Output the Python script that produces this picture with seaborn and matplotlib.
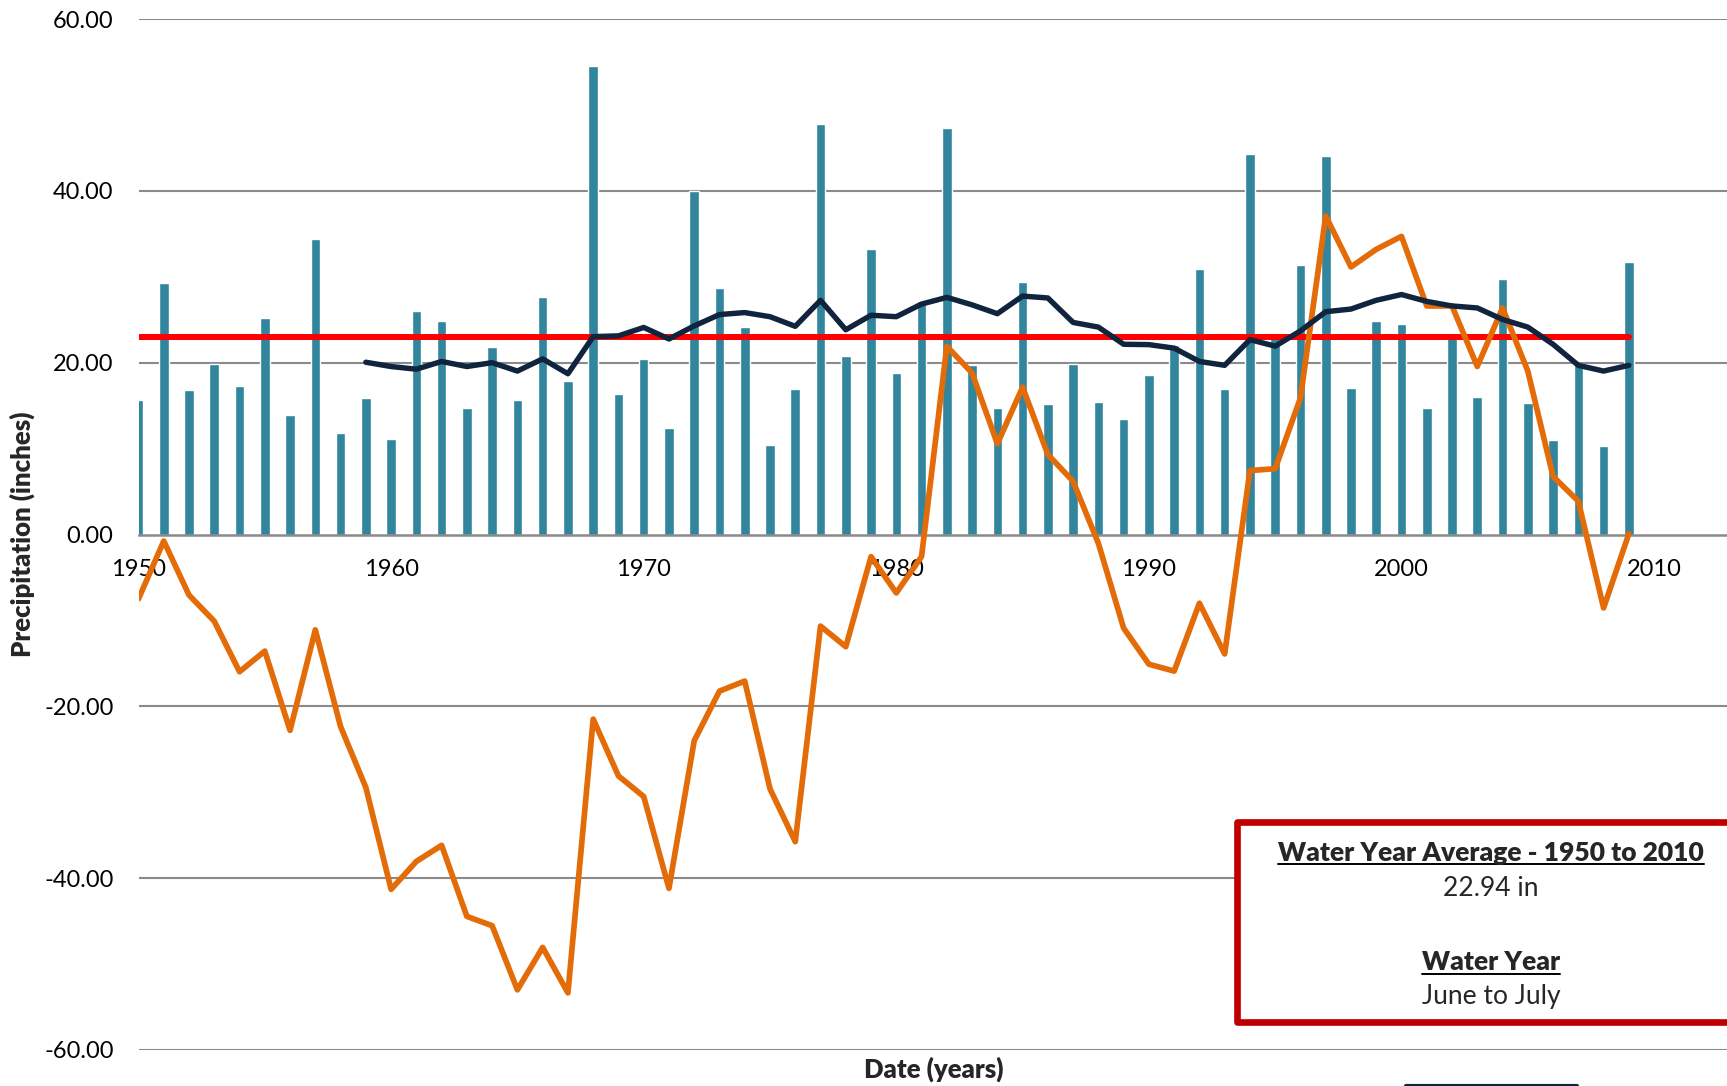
import pandas as pd
import matplotlib.pyplot as plt
import seaborn as sns
from matplotlib.patches import Rectangle
from matplotlib.lines import Line2D

# ---------------- data ----------------
years = list(range(1950, 2010))

precip = [15.6, 29.3, 16.8, 19.8, 17.3, 25.2, 13.9, 34.4, 11.8, 15.9,
          11.1, 26.0, 24.8, 14.7, 21.8, 15.6, 27.7, 17.9, 54.5, 16.4,
          20.4, 12.4, 40.0, 28.7, 24.1, 10.4, 16.9, 47.8, 20.8, 33.2,
          18.8, 27.2, 47.3, 19.7, 14.7, 29.4, 15.2, 19.9, 15.4, 13.4,
          18.6, 22.0, 30.9, 16.9, 44.3, 23.1, 31.4, 44.0, 17.1, 24.8,
          24.5, 14.7, 23.0, 16.0, 29.7, 15.3, 11.0, 19.9, 10.3, 31.7]

ma_years = list(range(1959, 2010))
moving_avg = [20.05, 19.55, 19.24, 20.14, 19.55, 20.0, 19.02, 20.44, 18.71, 23.03,
              23.12, 24.1, 22.76, 24.28, 25.6, 25.83, 25.35, 24.23, 27.26, 23.83,
              25.52, 25.35, 26.82, 27.6, 26.73, 25.7, 27.75, 27.53, 24.68, 24.14,
              22.14, 22.1, 21.69, 20.14, 19.69, 22.68, 21.92, 23.7, 25.93, 26.24,
              27.26, 27.93, 27.13, 26.6, 26.37, 25.03, 24.14, 22.14, 19.69, 19.02,
              19.69]

cum_departure = [-7.49, -0.76, -7.05, -10.1, -15.97, -13.57, -22.79, -11.1, -22.36, -29.44,
                 -41.3, -38.05, -36.18, -44.45, -45.53, -53.0, -48.06, -53.35, -21.49, -28.1,
                 -30.5, -41.19, -24.0, -18.23, -17.06, -29.6, -35.75, -10.66, -13.06, -2.58,
                 -6.8, -2.57, 21.9, 18.8, 10.56, 17.15, 9.31, 6.19, -1.03, -10.9,
                 -15.1, -15.9, -8.0, -13.9, 7.44, 7.66, 15.9, 37.07, 31.14, 33.19,
                 34.7, 26.6, 26.6, 19.56, 26.37, 19.02, 6.76, 3.88, -8.55, 0.08]

avg_value = 22.94

xticks = [1950, 1960, 1970, 1980, 1990, 2000, 2010]
yticks = [-60, -40, -20, 0, 20, 40, 60]
ytick_labels = ["-60.00", "-40.00", "-20.00", "0.00", "20.00", "40.00", "60.00"]

df = pd.DataFrame({"Year": years, "Precip": precip, "CumDep": cum_departure})
ma = pd.DataFrame({"Year": ma_years, "MovingAvg": moving_avg})

# ---------------- style ----------------
sns.set_style("white")
plt.rcParams["font.family"] = ["Lato", "DejaVu Sans"]

W, H = 1727, 1086
fig = plt.figure(figsize=(W / 100, H / 100), dpi=100)
ax = fig.add_axes([138.5 / W, 1 - 1050 / H, 1 - 138.5 / W, (1050 - 19) / H])

grid_col = "#8a8a8a"
for v in yticks:
    if v != 0:
        ax.axhline(v, color=grid_col, lw=1.5, zorder=0)

# bars
sns.barplot(data=df, x="Year", y="Precip", native_scale=True, width=0.38,
            color="#31859C", saturation=1, errorbar=None, ax=ax, zorder=2)

# average line
sns.lineplot(x=[years[0], years[-1]], y=[avg_value, avg_value], color="#FF0000",
             linewidth=4.3, ax=ax, zorder=3, solid_capstyle="round")

# cumulative departure
sns.lineplot(data=df, x="Year", y="CumDep", color="#E36C09", linewidth=4.1,
             ax=ax, zorder=4, solid_joinstyle="round")

# moving average
sns.lineplot(data=ma, x="Year", y="MovingAvg", color="#10243E", linewidth=3.9,
             ax=ax, zorder=5, solid_joinstyle="round", solid_capstyle="round")

ax.set_xlim(1950, 1950 + (W - 138.5) / 25.26)
ax.set_ylim(-60, 60)

for s in ["top", "right", "left"]:
    ax.spines[s].set_visible(False)
ax.spines["bottom"].set_position(("data", 0))
ax.spines["bottom"].set_color(grid_col)
ax.spines["bottom"].set_linewidth(1.8)
ax.spines["bottom"].set_zorder(2.5)

ax.set_xticks(xticks)
ax.set_xticklabels([str(x) for x in xticks])
ax.set_yticks(yticks)
ax.set_yticklabels(ytick_labels)
ax.tick_params(axis="x", direction="out", length=5.5, width=1.5, color=grid_col,
               pad=12, labelsize=17, labelcolor="black")
ax.tick_params(axis="y", length=0, pad=18, labelsize=17, labelcolor="black")
ax.set_xlabel("")
ax.set_ylabel("")

fig.text(22 / W, 1 - 534 / H, "Precipitation (inches)", rotation=90, ha="center",
         va="center", fontsize=18.5, fontweight="heavy")
fig.text(934 / W, 1 - 1069 / H, "Date (years)", ha="center", va="center",
         fontsize=18.5, fontweight="heavy")

# info box
box = Rectangle((1237 / W, 1 - 1022.4 / H), 0.35, 200.4 / H, transform=fig.transFigure,
                facecolor="white", edgecolor="#C00000", linewidth=4.8, zorder=10,
                joinstyle="round")
fig.add_artist(box)

cx = 1491 / W
t1 = fig.text(cx, 1 - 860.7 / H, "Water Year Average - 1950 to 2010", ha="center",
              va="baseline", fontsize=19, fontweight="heavy", zorder=11)
fig.text(cx, 1 - 896 / H, "22.94 in", ha="center", va="baseline", fontsize=19, zorder=11)
t3 = fig.text(cx, 1 - 970 / H, "Water Year", ha="center", va="baseline", fontsize=19,
              fontweight="heavy", zorder=11)
fig.text(cx, 1 - 1004 / H, "June to July", ha="center", va="baseline", fontsize=19, zorder=11)

fig.canvas.draw()
renderer = fig.canvas.get_renderer()
for t, base in [(t1, 860.7), (t3, 970)]:
    bb = t.get_window_extent(renderer)
    yy = 1 - (base + 3.5) / H
    fig.add_artist(Line2D([bb.x0 / W, bb.x1 / W], [yy, yy], transform=fig.transFigure,
                          color="black", linewidth=1.4, zorder=11))

# partially visible legend sample at bottom edge
fig.add_artist(Line2D([1406 / W, 1577 / W], [0.0, 0.0], transform=fig.transFigure,
                      color="#10243E", linewidth=3, zorder=11))

fig.savefig("out.png", dpi=100)
